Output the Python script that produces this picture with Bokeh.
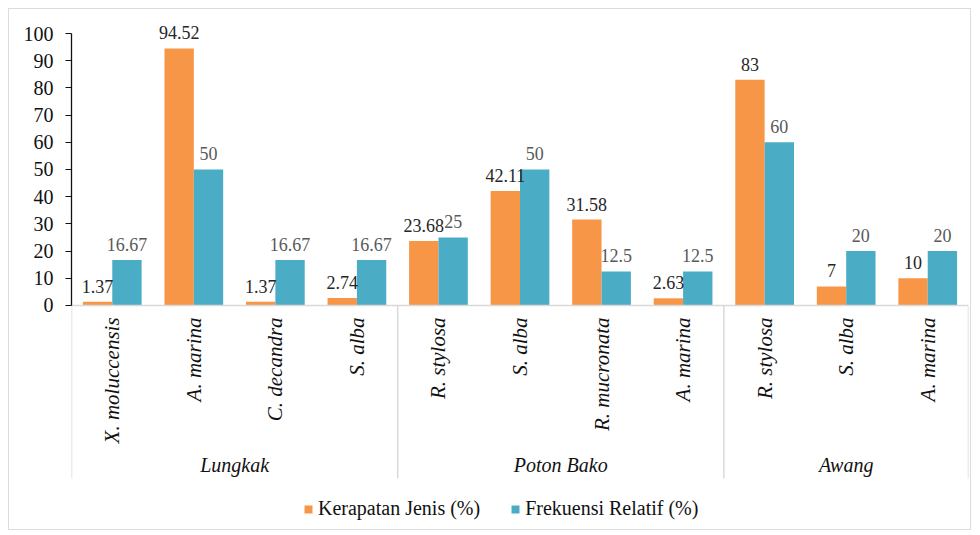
from bokeh.plotting import figure
from bokeh.models import FactorRange, ColumnDataSource, Legend, LegendItem, FixedTicker
from bokeh.transform import dodge
from bokeh.core.properties import value
from bokeh.embed import file_html
from bokeh.resources import INLINE
import math

# ---- data ----
sites = ["Lungkak", "Poton Bako", "Awang"]
species = [
    ["X. moluccensis", "A. marina", "C. decandra", "S. alba"],
    ["R. stylosa", "S. alba", "R. mucronata", "A. marina"],
    ["R. stylosa", "S. alba", "A. marina"],
]
kerapatan = [1.37, 94.52, 1.37, 2.74, 23.68, 42.11, 31.58, 2.63, 83, 7, 10]
frekuensi = [16.67, 50, 16.67, 16.67, 25, 50, 12.5, 12.5, 60, 20, 20]
series_names = ["Kerapatan Jenis (%)", "Frekuensi Relatif (%)"]
y_ticks = [0, 10, 20, 30, 40, 50, 60, 70, 80, 90, 100]

ORANGE = "#F79646"
TEAL = "#4BACC6"
FONT = "Liberation Serif"
Y_MIN, Y_MAX = -82.4, 107.0
AXIS_DEPTH = -63.6   # how far the category "table" lines reach below zero

factors = [(s, sp) for s, lst in zip(sites, species) for sp in lst]
src = ColumnDataSource(dict(
    x=factors,
    sp=[f[1] for f in factors],
    k=kerapatan,
    f=frekuensi,
    kl=["{:g}".format(v) for v in kerapatan],
    fl=["{:g}".format(v) for v in frekuensi],
    zero=[0] * len(factors),
))

x_range = FactorRange(*factors, factor_padding=0, group_padding=0, range_padding=0)

p = figure(
    x_range=x_range, y_range=(Y_MIN, Y_MAX),
    width=963, height=522,
    output_backend="svg", toolbar_location=None,
    min_border_left=62, min_border_right=4, min_border_top=5, min_border_bottom=2,
    background_fill_color="white", border_fill_color="white",
)
p.styles = {"border": "1px solid #dcdcdc", "margin-left": "8px", "margin-top": "8px"}
p.xaxis.visible = False
p.outline_line_color = None
p.grid.visible = False

# bars
rk = p.vbar(x=dodge("x", -0.18, range=p.x_range), top="k", width=0.36, source=src,
            fill_color=ORANGE, line_color=None)
rf = p.vbar(x=dodge("x", 0.18, range=p.x_range), top="f", width=0.36, source=src,
            fill_color=TEAL, line_color=None)

# data labels
p.text(x=dodge("x", -0.18, range=p.x_range), y="k", text="kl", source=src,
       text_align="center", text_baseline="bottom", y_offset=-9,
       text_font=value(FONT), text_font_size="18px", text_color="#262626")
p.text(x=dodge("x", 0.18, range=p.x_range), y="f", text="fl", source=src,
       text_align="center", text_baseline="bottom", y_offset=-9,
       text_font=value(FONT), text_font_size="18px", text_color="#595959")

# category axis drawn in-frame (table-like layout)
counts = [len(lst) for lst in species]
bounds = [0]
for c in counts:
    bounds.append(bounds[-1] + c)
p.segment(x0=[0], y0=[0], x1=[bounds[-1]], y1=[0], line_color="#d9d9d9", line_width=1.5)
p.segment(x0=bounds, y0=[0] * len(bounds), x1=bounds, y1=[AXIS_DEPTH] * len(bounds),
          line_color="#d9d9d9", line_width=1.5)

p.text(x="x", y="zero", text="sp", source=src, angle=math.pi / 2,
       text_align="right", text_baseline="middle", y_offset=12,
       text_font=value(FONT), text_font_size="21px", text_font_style="italic",
       text_color="#111111")
p.text(x=sites, y=[0] * len(sites), text=sites,
       text_align="center", text_baseline="middle", y_offset=160,
       text_font=value(FONT), text_font_size="20px", text_font_style="italic",
       text_color="#111111")

# y axis
ax = p.yaxis[0]
ax.bounds = (0, 100)
ax.ticker = FixedTicker(ticks=y_ticks)
ax.major_label_text_font = FONT
ax.major_label_text_font_size = "20px"
ax.major_label_text_color = "#111111"
ax.axis_line_color = "#111111"
ax.axis_line_width = 1.3
ax.major_tick_line_color = "#111111"
ax.major_tick_out = 6
ax.major_tick_in = 0
ax.minor_tick_out = 0
ax.minor_tick_in = 0
ax.major_label_standoff = 12

legend = Legend(items=[LegendItem(label=series_names[0], renderers=[rk]),
                       LegendItem(label=series_names[1], renderers=[rf])],
                orientation="horizontal", location=(232, 9),
                label_text_font=FONT, label_text_font_size="20px", label_text_color="#111111",
                glyph_width=10, glyph_height=10, label_standoff=5, spacing=30,
                border_line_color=None, background_fill_alpha=0, margin=0, padding=8)
p.add_layout(legend, "center")

open("out.html", "w").write(file_html(p, INLINE))
